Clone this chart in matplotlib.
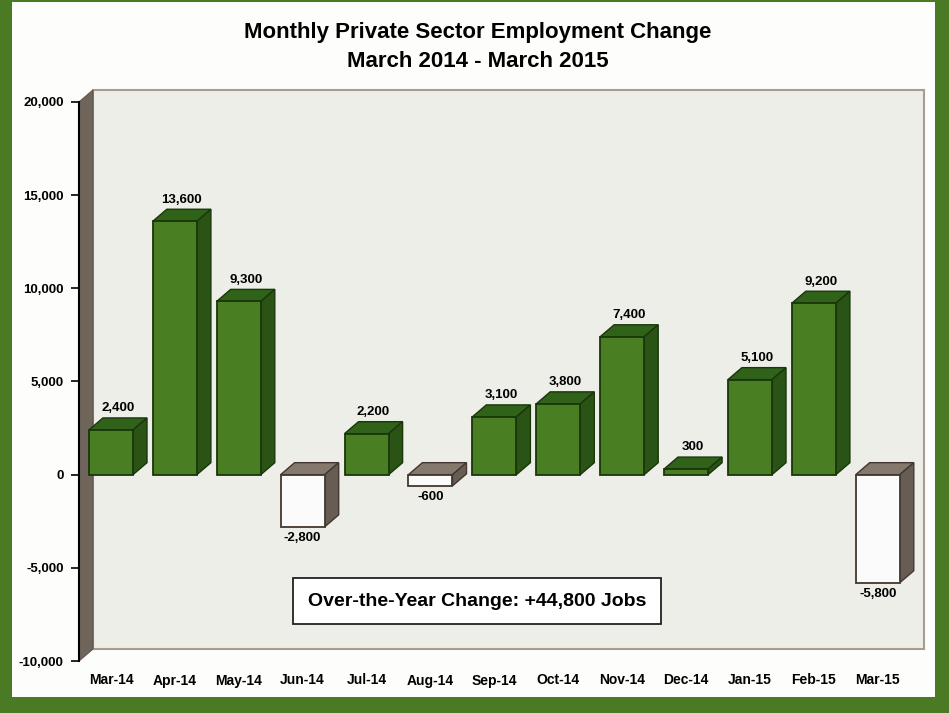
import numpy as np
import matplotlib.pyplot as plt
from matplotlib.patches import Polygon, Rectangle
from matplotlib.ticker import FuncFormatter

months = ["Mar-14", "Apr-14", "May-14", "Jun-14", "Jul-14", "Aug-14", "Sep-14",
          "Oct-14", "Nov-14", "Dec-14", "Jan-15", "Feb-15", "Mar-15"]
changes = [2400, 13600, 9300, -2800, 2200, -600, 3100, 3800, 7400, 300, 5100, 9200, -5800]
yticks = [-10000, -5000, 0, 5000, 10000, 15000, 20000]
title = "Monthly Private Sector Employment Change\nMarch 2014 - March 2015"
note = "Over-the-Year Change: +44,800 Jobs"

plt.rcParams['font.family'] = ['Liberation Sans', 'DejaVu Sans']
plt.rcParams['font.weight'] = 'bold'

green_bg = "#4b7a24"
fig = plt.figure(figsize=(9.49, 7.13), dpi=100, facecolor=green_bg)
fig.patches.append(Rectangle((12 / 949, 16 / 713), 923 / 949, 695 / 713,
                             transform=fig.transFigure, facecolor="#fdfdfb",
                             edgecolor="none", zorder=-10))

ax = fig.add_axes([79 / 949, 52 / 713, 830.7 / 949, 559 / 713])
ax.set_facecolor("none")
ymin, ymax = -10000, 20000
xmin, xmax = -0.5, 12.5
ax.set_xlim(xmin, xmax)
ax.set_ylim(ymin, ymax)

# 3D depth in data units
ddx = 14 / 63.9
ddy = 12 / (559 / 30000)

# walls
side = Polygon([(xmin, ymin), (xmin, ymax), (xmin + ddx, ymax + ddy), (xmin + ddx, ymin + ddy)],
               closed=True, facecolor="#6f655b", edgecolor="#5e544b", lw=0.8,
               clip_on=False, zorder=1)
back = Rectangle((xmin + ddx, ymin + ddy), xmax - xmin, ymax - ymin,
                 facecolor="#eceee7", edgecolor="#a89c90", lw=1.5,
                 clip_on=False, zorder=1)
ax.add_patch(back)
ax.add_patch(side)

w = 0.69
for i, v in enumerate(changes):
    x0, x1 = i - w / 2, i + w / 2
    lo, hi = min(0, v), max(0, v)
    if v >= 0:
        front_c, top_c, side_c, edge_c = "#497f22", "#306219", "#295416", "#1a360b"
    else:
        front_c, top_c, side_c, edge_c = "#fbfbfb", "#85786c", "#685d54", "#43382f"
    ax.add_patch(Polygon([(x0, hi), (x1, hi), (x1 + ddx, hi + ddy), (x0 + ddx, hi + ddy)],
                         closed=True, facecolor=top_c, edgecolor=edge_c, lw=1.0,
                         clip_on=False, zorder=3))
    ax.add_patch(Polygon([(x1, lo), (x1, hi), (x1 + ddx, hi + ddy), (x1 + ddx, lo + ddy)],
                         closed=True, facecolor=side_c, edgecolor=edge_c, lw=1.0,
                         clip_on=False, zorder=3))
    ax.add_patch(Rectangle((x0, lo), w, hi - lo, facecolor=front_c, edgecolor=edge_c,
                           lw=1.3, zorder=4))
    label = f"{v:,}"
    if v >= 0:
        ax.text(i + ddx / 2, v + ddy + 200, label, ha="center", va="bottom",
                fontsize=9.5, fontweight="bold", zorder=5)
    else:
        ax.text(i, v - 300, label, ha="center", va="top",
                fontsize=9.5, fontweight="bold", zorder=5)

ax.set_xticks(range(len(months)))
ax.set_xticklabels(months, fontsize=10, fontweight="bold")
ax.tick_params(axis="x", length=0, pad=9)
ax.set_yticks(yticks)
ax.yaxis.set_major_formatter(FuncFormatter(lambda v, p: f"{int(v):,}"))
ax.tick_params(axis="y", direction="out", length=6, width=1.2, pad=5, labelsize=9.5)
for t in ax.get_yticklabels():
    t.set_fontweight("bold")

for s in ["top", "right", "bottom"]:
    ax.spines[s].set_visible(False)
ax.spines["left"].set_linewidth(1.5)
ax.spines["left"].set_zorder(6)

ax.text(0.479, 0.107, note, transform=ax.transAxes, ha="center", va="center",
        fontsize=14, fontweight="bold", zorder=7,
        bbox=dict(boxstyle="square,pad=0.75", facecolor="white", edgecolor="#222222", lw=1.3))

fig.text(478 / 949, 1 - 47 / 713, title, ha="center", va="center", fontsize=16,
         fontweight="bold", linespacing=1.55)

fig.savefig("out.png", dpi=100, facecolor=green_bg)
